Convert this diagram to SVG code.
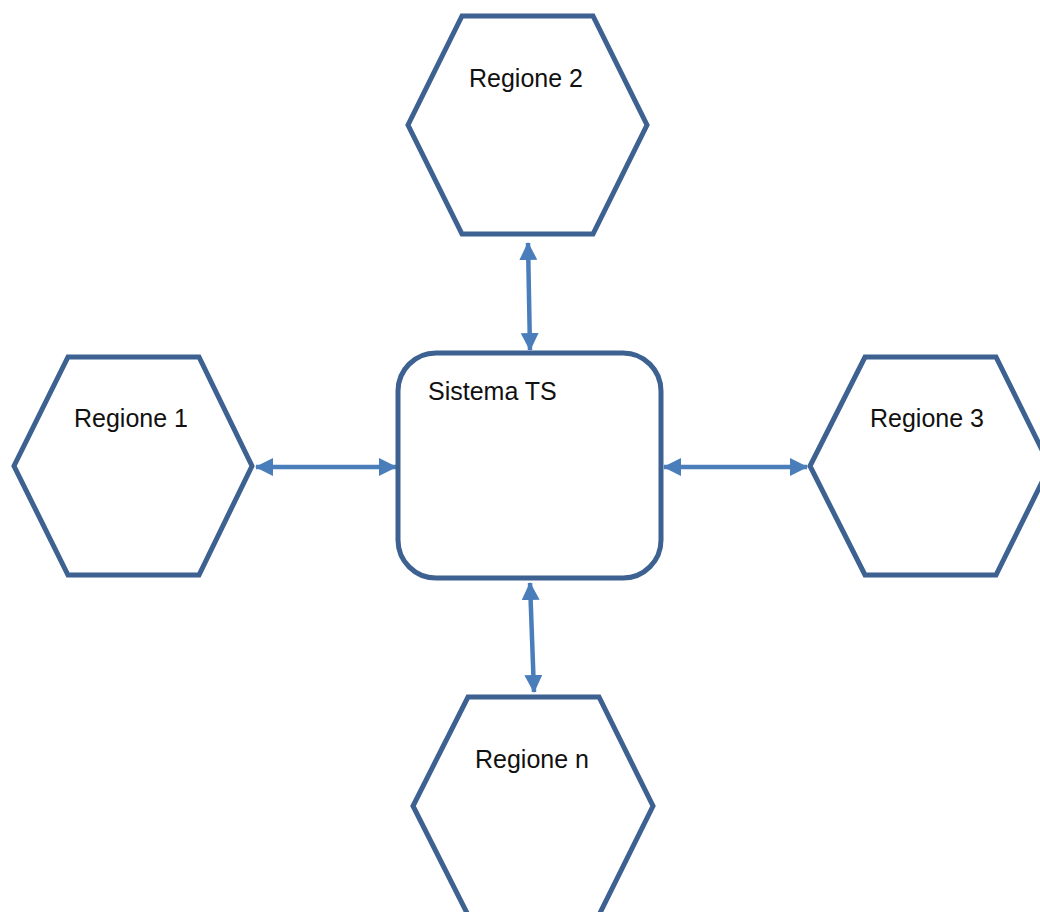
<svg xmlns="http://www.w3.org/2000/svg" width="1040" height="912" viewBox="0 0 1040 912">
<style>
.hex{fill:#ffffff;stroke:#3d6190;stroke-width:5;stroke-linejoin:miter}
.box{fill:#ffffff;stroke:#3d6190;stroke-width:5}
.lbl{font-family:"Liberation Sans",Arial,sans-serif;font-size:25px;fill:#111111}
.conn{stroke:#4a7ebb;stroke-width:4.5;fill:none;marker-start:url(#ah);marker-end:url(#ah)}
</style>
<defs>
<marker id="ah" markerUnits="userSpaceOnUse" viewBox="0 0 18 18" refX="17" refY="9" markerWidth="18" markerHeight="18" orient="auto-start-reverse">
<path d="M0,0 L18,9 L0,18 Z" fill="#4a7ebb"/>
</marker>
</defs>
<rect width="1040" height="912" fill="#ffffff"/>
<g id="connectors">
<line class="conn" x1="528" y1="243" x2="530" y2="350"/>
<line class="conn" x1="256" y1="467" x2="396" y2="467"/>
<line class="conn" x1="664" y1="467" x2="807" y2="467"/>
<line class="conn" x1="530" y1="583" x2="534" y2="692"/>
</g>
<g id="sistema-ts">
<rect class="box" x="398" y="353" width="263" height="225" rx="38" ry="38"/>
<text class="lbl" x="428" y="400">Sistema TS</text>
</g>
<g id="regione-2">
<polygon class="hex" points="462,16 593,16 647,125 593,234 462,234 408,125"/>
<text class="lbl" x="526" y="87" text-anchor="middle">Regione 2</text>
</g>
<g id="regione-1">
<polygon class="hex" points="68,357 199,357 252,466 199,575 68,575 14,466"/>
<text class="lbl" x="131" y="427" text-anchor="middle">Regione 1</text>
</g>
<g id="regione-3">
<polygon class="hex" points="865,357 996,357 1050,466 996,575 865,575 810,466"/>
<text class="lbl" x="927" y="427" text-anchor="middle">Regione 3</text>
</g>
<g id="regione-n">
<polygon class="hex" points="468,697 599,697 653,806 599,915 468,915 413,806"/>
<text class="lbl" x="532" y="768" text-anchor="middle">Regione n</text>
</g>
</svg>
